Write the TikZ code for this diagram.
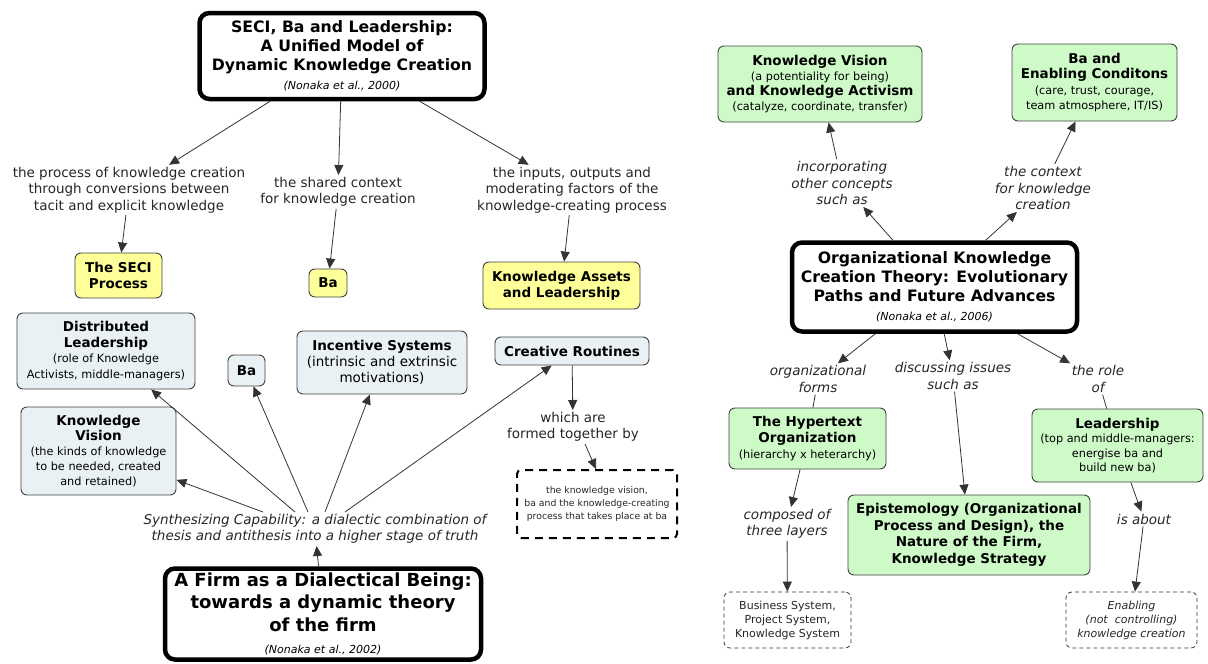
\documentclass[tikz,border=0pt]{standalone}
\usepackage{fontspec}
\setmainfont{DejaVu Sans}
\usetikzlibrary{arrows.meta}

\definecolor{yellowfill}{RGB}{255,255,153}
\definecolor{bluefill}{RGB}{233,241,244}
\definecolor{greenfill}{RGB}{206,250,200}

\newcommand{\subtxt}[1]{{\mdseries\fontsize{11.3}{14}\selectfont #1}}
\newcommand{\citetxt}[1]{{\mdseries\itshape\fontsize{11}{13}\selectfont #1}}

\begin{document}
\begin{tikzpicture}[x=1pt, y=-1pt]
    % Styles
    \tikzstyle{concept} = [draw=black!75, line width=0.9pt, rounded corners=6pt, align=center, inner sep=2pt, text=black, font={\fontsize{13.5}{16}\selectfont\bfseries}]
    \tikzstyle{yellowbox} = [concept, fill=yellowfill]
    \tikzstyle{bluebox} = [concept, fill=bluefill]
    \tikzstyle{greenbox} = [concept, fill=greenfill]
    \tikzstyle{mainbox} = [draw=black, line width=4.5pt, rounded corners=10pt, fill=white, align=center, font={\fontsize{15.7}{19}\selectfont\bfseries}]
    \tikzstyle{phrase} = [align=center, inner sep=2pt, text=black!85, font={\fontsize{13.5}{16.5}\selectfont}]
    \tikzstyle{iphrase} = [phrase, font={\fontsize{13.5}{16.5}\selectfont\itshape}]
    \tikzstyle{thindash} = [draw=black!80, line width=0.8pt, dash pattern=on 4pt off 3pt, rounded corners=6pt, align=center, text=black!85, font={\fontsize{11}{14}\selectfont}]
    \tikzstyle{arrow} = [line width=0.8pt, draw=black!80, -{Triangle[length=10pt,width=9pt]}]
    \tikzstyle{link} = [line width=0.8pt, draw=black!80]

    \useasboundingbox (0,0) rectangle (1208,664);

    % Nodes: left part
    \node (seci) [mainbox, minimum width=285, minimum height=86] at (342,56) {SECI, Ba and Leadership:\\A Unified Model of\\Dynamic Knowledge Creation\\\citetxt{(Nonaka et al., 2000)}};
    \node (process) [phrase] at (129,190) {the process of knowledge creation\\through conversions between\\tacit and explicit knowledge};
    \node (shared) [phrase] at (338,192) {the shared context\\for knowledge creation};
    \node (inputs) [phrase] at (572,190) {the inputs, outputs and\\moderating factors of the\\knowledge-creating process};
    \node (secibox) [yellowbox, minimum width=87, minimum height=45] at (118.5,275.5) {The SECI\\Process};
    \node (ba1) [yellowbox, minimum width=38, minimum height=28] at (328,283) {Ba};
    \node (assets) [yellowbox, minimum width=157, minimum height=47] at (561.5,285.5) {Knowledge Assets\\and Leadership};

    \node (distlead) [bluebox, minimum width=178, minimum height=76, font={\fontsize{13.5}{15.5}\selectfont\bfseries}] at (106,351) {Distributed\\Leadership\\\subtxt{(role of Knowledge}\\\subtxt{Activists, middle-managers)}};
    \node (kvisleft) [bluebox, minimum width=155, minimum height=88, font={\fontsize{13.5}{15}\selectfont\bfseries}] at (98.5,451) {Knowledge\\Vision\\\subtxt{(the kinds of knowledge}\\\subtxt{to be needed, created}\\\subtxt{and retained)}};
    \node (ba2) [bluebox, minimum width=37, minimum height=31] at (246.5,370.5) {Ba};
    \node (incentive) [bluebox, minimum width=170, minimum height=63] at (382,362.5) {Incentive Systems\\\mdseries(intrinsic and extrinsic\\\mdseries motivations)};
    \node (routines) [bluebox, minimum width=154, minimum height=28] at (572,351) {Creative Routines};
    \node (which) [phrase] at (573,427) {which are\\formed together by};
    \node (together) [draw=black, line width=2pt, dash pattern=on 8pt off 6pt, rounded corners=4pt, align=center, minimum width=160, minimum height=68, text=black!85, font={\fontsize{9.3}{13}\selectfont}] at (597,504) {the knowledge vision,\\ba and the knowledge-creating\\process that takes place at ba};
    \node (synth) [iphrase] at (315,529) {Synthesizing Capability: a dialectic combination of\\thesis and antithesis into a higher stage of truth};
    \node (firm) [mainbox, minimum width=316, minimum height=91, font={\fontsize{18}{22.5}\selectfont\bfseries}] at (323,614) {A Firm as a Dialectical Being:\\towards a dynamic theory\\of the firm\\\citetxt{(Nonaka et al., 2002)}};

    % Nodes: right part
    \node (kvisright) [greenbox, minimum width=204, minimum height=76, font={\fontsize{13.5}{15.3}\selectfont\bfseries}] at (820,84) {Knowledge Vision\\\subtxt{(a potentiality for being)}\\and Knowledge Activism\\\subtxt{(catalyze, coordinate, transfer)}};
    \node (baenable) [greenbox, minimum width=165, minimum height=77, font={\fontsize{13.5}{15.3}\selectfont\bfseries}] at (1094.5,82.5) {Ba and\\Enabling Conditons\\\subtxt{(care, trust, courage,}\\\subtxt{team atmosphere, IT/IS)}};
    \node (incorp) [iphrase] at (842,183) {incorporating\\other concepts\\such as};
    \node (context) [iphrase] at (1043,188) {the context\\for knowledge\\creation};
    \node (okct) [mainbox, minimum width=285, minimum height=89] at (934.5,287) {Organizational Knowledge\\Creation Theory: Evolutionary\\Paths and Future Advances\\\citetxt{(Nonaka et al., 2006)}};
    \node (orgforms) [iphrase] at (818,379) {organizational\\forms};
    \node (discuss) [iphrase] at (953,376) {discussing issues\\such as};
    \node (roleof) [iphrase] at (1098,379) {the role\\of};
    \node (hypertext) [greenbox, minimum width=157, minimum height=61, font={\fontsize{13.5}{16}\selectfont\bfseries}] at (807.5,438.5) {The Hypertext\\Organization\\\subtxt{(hierarchy x heterarchy)}};
    \node (leadership) [greenbox, minimum width=171, minimum height=73, font={\fontsize{13.5}{14.5}\selectfont\bfseries}] at (1117.5,445.5) {Leadership\\\subtxt{(top and middle-managers:}\\\subtxt{energise ba and}\\\subtxt{build new ba)}};
    \node (episte) [greenbox, minimum width=242, minimum height=80, font={\fontsize{13.5}{16.5}\selectfont\bfseries}] at (969,535) {Epistemology (Organizational\\Process and Design), the\\Nature of the Firm,\\Knowledge Strategy};
    \node (composed) [iphrase] at (787,524) {composed of\\three layers};
    \node (isabout) [iphrase] at (1144,519) {is about};
    \node (layers) [thindash, minimum width=127, minimum height=56] at (787.5,620) {Business System,\\Project System,\\Knowledge System};
    \node (enabling) [thindash, minimum width=131, minimum height=56, font={\fontsize{11}{14}\selectfont\itshape}] at (1131.5,620) {Enabling\\(not\ \ controlling)\\knowledge creation};

    % Arrows: left part
    \draw [arrow] (seci) -- (process);
    \draw [arrow] (seci) -- (shared);
    \draw [arrow] (seci) -- (inputs);
    \draw [arrow] (process) -- (secibox);
    \draw [arrow] (shared) -- (ba1);
    \draw [arrow] (inputs) -- (assets);
    \draw [arrow] (firm) -- (synth);
    \draw [arrow] ([xshift=-52]synth.north) -- (kvisleft);
    \draw [arrow] ([xshift=-20]synth.north) -- (distlead);
    \draw [arrow] ([xshift=-7]synth.north) -- (ba2);
    \draw [arrow] ([xshift=10]synth.north) -- (incentive);
    \draw [arrow] ([xshift=30]synth.north) -- (routines);
    \draw [arrow] (routines) -- (which);
    \draw [arrow] ([xshift=12]which.south) -- ([xshift=-1]together.north);

    % Arrows: right part
    \draw [arrow] (okct) -- (incorp);
    \draw [arrow] (incorp) -- (kvisright);
    \draw [arrow] (okct) -- (context);
    \draw [arrow] (context) -- (baenable);
    \draw [arrow] (okct) -- (orgforms);
    \draw [arrow] (okct) -- (discuss);
    \draw [arrow] (okct) -- (roleof);
    \draw [link] (orgforms) -- (hypertext);
    \draw [arrow] (discuss) -- (episte);
    \draw [link] (roleof) -- (leadership);
    \draw [arrow] (hypertext) -- (composed);
    \draw [arrow] (composed) -- (layers);
    \draw [arrow] (leadership) -- (isabout);
    \draw [arrow] (isabout) -- (enabling);
\end{tikzpicture}
\end{document}
